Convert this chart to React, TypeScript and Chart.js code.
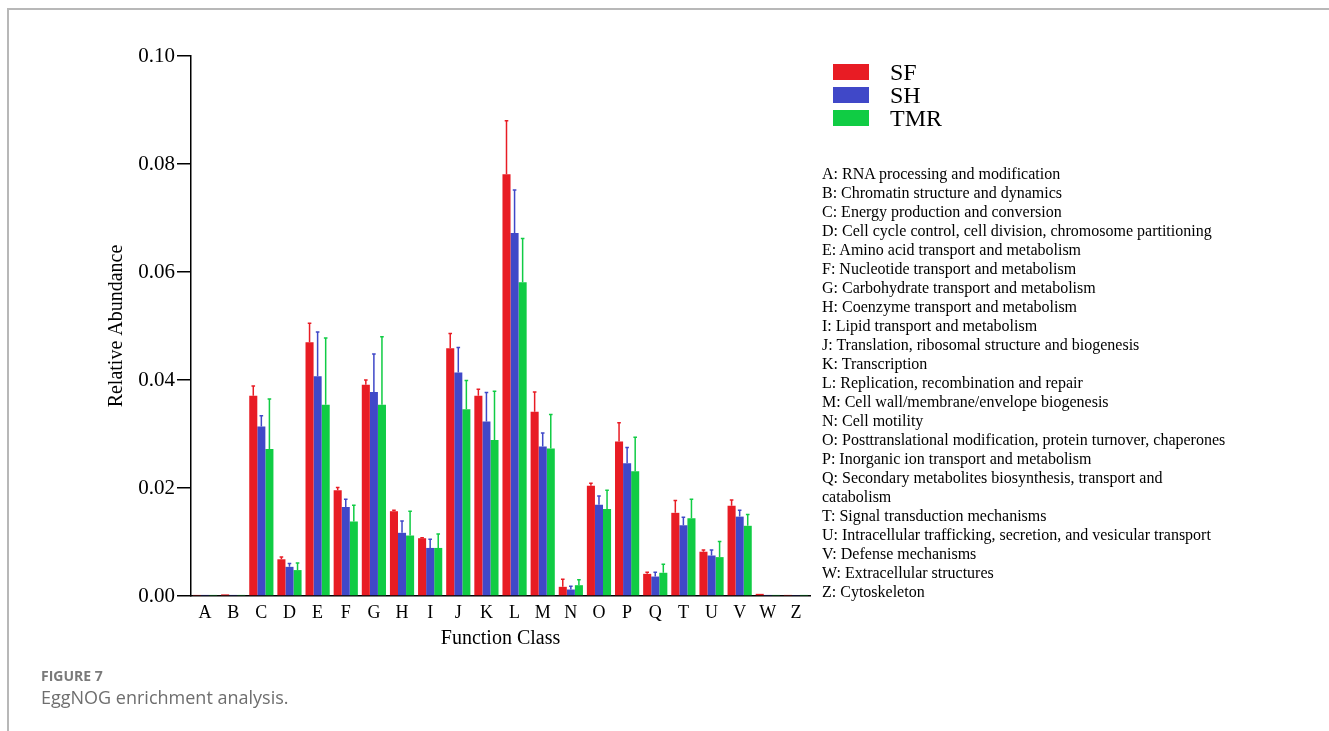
import React, { useEffect, useRef } from "react";
import { Chart, registerables } from "chart.js";

Chart.register(...registerables);

const categories = ["A", "B", "C", "D", "E", "F", "G", "H", "I", "J", "K", "L", "M", "N", "O", "P", "Q", "T", "U", "V", "W", "Z"];
const seriesNames = ["SF", "SH", "TMR"];

const sfValues = [0.0002, 0.0003, 0.0371, 0.0068, 0.047, 0.0196, 0.0391, 0.0157, 0.0107, 0.0459, 0.0371, 0.0781, 0.0341, 0.0017, 0.0204, 0.0286, 0.0041, 0.0154, 0.0082, 0.0167, 0.0004, 0.0002];
const sfErrors = [0, 0, 0.0018, 0.0004, 0.0035, 0.0005, 0.0009, 0.0002, 0.0001, 0.0027, 0.0012, 0.0099, 0.0037, 0.0014, 0.0005, 0.0035, 0.0003, 0.0023, 0.0003, 0.0011, 0, 0];

const shValues = [0.0002, 0.0002, 0.0314, 0.0054, 0.0407, 0.0165, 0.0378, 0.0117, 0.0089, 0.0414, 0.0323, 0.0672, 0.0277, 0.0012, 0.0169, 0.0246, 0.0036, 0.0131, 0.0075, 0.0147, 0.0002, 0.0001];
const shErrors = [0, 0, 0.002, 0.0006, 0.0082, 0.0014, 0.007, 0.0022, 0.0016, 0.0046, 0.0054, 0.008, 0.0025, 0.0006, 0.0016, 0.0029, 0.0008, 0.0015, 0.001, 0.0012, 0, 0];

const tmrValues = [0.0002, 0.0002, 0.0272, 0.0048, 0.0354, 0.0138, 0.0354, 0.0112, 0.0089, 0.0346, 0.0289, 0.0581, 0.0273, 0.002, 0.0161, 0.0231, 0.0043, 0.0144, 0.0072, 0.013, 0.0002, 0.0002];
const tmrErrors = [0, 0, 0.0093, 0.0013, 0.0124, 0.003, 0.0126, 0.0045, 0.0026, 0.0053, 0.009, 0.0081, 0.0063, 0.001, 0.0035, 0.0063, 0.0016, 0.0035, 0.0029, 0.0021, 0, 0];

const yTicks = [0, 0.02, 0.04, 0.06, 0.08, 0.1];

const descriptions = [
  "A: RNA processing and modification",
  "B: Chromatin structure and dynamics",
  "C: Energy production and conversion",
  "D: Cell cycle control, cell division, chromosome partitioning",
  "E: Amino acid transport and metabolism",
  "F: Nucleotide transport and metabolism",
  "G: Carbohydrate transport and metabolism",
  "H: Coenzyme transport and metabolism",
  "I: Lipid transport and metabolism",
  "J: Translation, ribosomal structure and biogenesis",
  "K: Transcription",
  "L: Replication, recombination and repair",
  "M: Cell wall/membrane/envelope biogenesis",
  "N: Cell motility",
  "O: Posttranslational modification, protein turnover, chaperones",
  "P: Inorganic ion transport and metabolism",
  "Q: Secondary metabolites biosynthesis, transport and",
  "catabolism",
  "T: Signal transduction mechanisms",
  "U: Intracellular trafficking, secretion, and vesicular transport",
  "V: Defense mechanisms",
  "W: Extracellular structures",
  "Z: Cytoskeleton",
];

const SERIF = '"Liberation Serif", "Times New Roman", serif';
const COLORS = ["#E81C24", "#4048C8", "#10CC44"];

const errorBarPlugin = {
  id: "errorBars",
  afterDatasetsDraw(chart: any) {
    const ctx = chart.ctx;
    const y = chart.scales.y;
    chart.data.datasets.forEach((ds: any, i: number) => {
      const meta = chart.getDatasetMeta(i);
      const errs: number[] = ds.errors || [];
      meta.data.forEach((el: any, j: number) => {
        const e = errs[j];
        if (!e) return;
        const top = y.getPixelForValue(ds.data[j] + e);
        ctx.save();
        ctx.strokeStyle = ds.backgroundColor;
        ctx.lineWidth = 1.5;
        ctx.beginPath();
        ctx.moveTo(el.x, el.y);
        ctx.lineTo(el.x, top);
        ctx.moveTo(el.x - 1.8, top);
        ctx.lineTo(el.x + 1.8, top);
        ctx.stroke();
        ctx.restore();
      });
    });
  },
};

export default function App() {
  const canvasRef = useRef<HTMLCanvasElement | null>(null);

  useEffect(() => {
    if (!canvasRef.current) return;
    const values = [sfValues, shValues, tmrValues];
    const errors = [sfErrors, shErrors, tmrErrors];
    const chart = new Chart(canvasRef.current, {
      type: "bar",
      data: {
        labels: categories,
        datasets: seriesNames.map((name, i) => ({
          label: name,
          data: values[i],
          errors: errors[i],
          backgroundColor: COLORS[i],
          borderWidth: 0,
          barPercentage: 1,
          categoryPercentage: 0.86,
        })) as any,
      },
      options: {
        responsive: false,
        maintainAspectRatio: false,
        animation: false,
        devicePixelRatio: 1,
        layout: { padding: { left: 93, top: 48, right: 511, bottom: 67 } },
        plugins: {
          legend: { display: false },
          tooltip: { enabled: false },
        },
        scales: {
          x: {
            grid: { display: false, drawTicks: false },
            border: { display: true, color: "#000", width: 1.5 },
            ticks: {
              color: "#000",
              font: { family: SERIF, size: 18 },
              padding: 6,
              maxRotation: 0,
              autoSkip: false,
            },
            title: {
              display: true,
              text: "Function Class",
              color: "#000",
              font: { family: SERIF, size: 20 },
              padding: { top: 0, bottom: 5 },
            },
            afterFit: (s: any) => {
              s.height = 60;
            },
          },
          y: {
            min: 0,
            max: 0.1,
            grid: {
              display: true,
              drawOnChartArea: false,
              drawTicks: true,
              tickLength: 14,
              color: "#000",
              lineWidth: 1.5,
            },
            border: { display: true, color: "#000", width: 1.5 },
            ticks: {
              color: "#000",
              font: { family: SERIF, size: 21 },
              padding: 2,
              callback: (v: any) => Number(v).toFixed(2),
            },
            afterBuildTicks: (s: any) => {
              s.ticks = yTicks.map((v) => ({ value: v }));
            },
            title: {
              display: true,
              text: "Relative Abundance",
              color: "#000",
              font: { family: SERIF, size: 20 },
              padding: { top: 4, bottom: 0 },
            },
            afterFit: (s: any) => {
              s.width = 90;
            },
          },
        },
      },
      plugins: [errorBarPlugin],
    });
    return () => chart.destroy();
  }, []);

  return (
    <div style={{ position: "relative", width: 1313, height: 715, overflow: "visible" }}>
      <div style={{ position: "fixed", left: 8, top: 8, right: 0, height: 0, borderTop: "2px solid #b8b8b8" }} />
      <div style={{ position: "fixed", left: 7, top: 8, bottom: 0, width: 0, borderLeft: "2px solid #b8b8b8" }} />
      <canvas ref={canvasRef} width={1313} height={715} style={{ position: "absolute", left: 0, top: 0 }} />
      {seriesNames.map((name, i) => (
        <div key={name} style={{ position: "absolute", left: 825, top: 56 + i * 23, height: 16, display: "flex", alignItems: "center" }}>
          <div style={{ width: 36, height: 16, background: COLORS[i] }} />
          <div style={{ marginLeft: 21, fontFamily: SERIF, fontSize: 24, lineHeight: "16px", color: "#000" }}>{name}</div>
        </div>
      ))}
      <div style={{ position: "absolute", left: 814, top: 156, fontFamily: SERIF, fontSize: 16, lineHeight: "19px", color: "#000", whiteSpace: "nowrap" }}>
        {descriptions.map((d, i) => (
          <div key={i}>{d}</div>
        ))}
      </div>
      <div style={{ position: "absolute", left: 33, top: 658, fontFamily: '"Open Sans", sans-serif', fontWeight: 700, fontSize: 14, lineHeight: "20px", color: "#7a7a7a" }}>
        FIGURE 7
      </div>
      <div style={{ position: "absolute", left: 33, top: 677, fontFamily: '"Open Sans", sans-serif', fontWeight: 400, fontSize: 18, lineHeight: "24px", color: "#6e6e6e" }}>
        EggNOG enrichment analysis.
      </div>
    </div>
  );
}
